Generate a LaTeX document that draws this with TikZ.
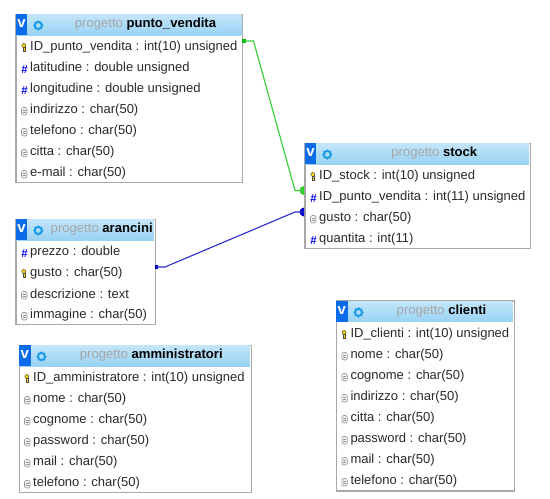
\documentclass[tikz,border=0pt]{standalone}
\usepackage{fontspec}
\usetikzlibrary{calc}
\setmainfont{Liberation Sans}
\definecolor{bordo}{HTML}{A8A8A8}
\definecolor{testo}{HTML}{2A2A2A}
\definecolor{headt}{HTML}{C4E6FA}
\definecolor{headb}{HTML}{98D2F4}
\definecolor{verde}{HTML}{2FD02F}
\definecolor{blu}{HTML}{2A2AD0}
\definecolor{vbox}{HTML}{0A6CE8}
\definecolor{gear}{HTML}{1E9BE8}
\tikzset{
  x=1pt,y=-1pt,
  tablebox/.style={draw=bordo,line width=1.2pt,fill=white,rectangle,inner sep=0pt,anchor=north west},
  rowtext/.style={anchor=west,inner sep=0pt,text=testo,font=\fontsize{13}{15}\selectfont},
  titletext/.style={inner sep=0pt,font=\fontsize{13.1}{15}\selectfont\bfseries,text=black},
  vtext/.style={inner sep=0pt,text=white,font=\fontsize{15}{16}\selectfont\bfseries},
  hashicon/.style={inner sep=0pt,text=blue,font=\fontsize{11.5}{12}\selectfont\bfseries},
  link/.style={line width=1.1pt},
}
\newcommand{\tabella}[7]{%
  \node[tablebox,minimum width=#4pt,minimum height=#5pt] (#1) at (#2,#3) {};
  \shade[top color=headt,bottom color=headb] (#2+.6,#3+.6) rectangle (#2+#4-.6,#3+21.5);
  \fill[vbox] (#2+.6,#3+.6) rectangle (#2+12,#3+21.5);
  \node[vtext] (#1v) at (#2+6.3,#3+10) {v};
  \draw[gear,line width=2pt] (#2+23,#3+12) circle (3.6);
  \foreach \a in {0,45,...,315}{\fill[gear] (#2+23,#3+12) ++(\a:4.2) circle (1);}
  \node[titletext] (#1t) at (#2+#6,#3+11) {\textcolor{gray!70}{\mdseries progetto} #7};
}
\newcommand{\riga}[6]{%
  \node[rowtext] (#1r#2) at (#3+15,#4+33.5+21*#2-21) {#6};
  \ifx#5k
    \draw[draw=black!70,fill=yellow!75!orange,line width=.5pt] (#3+8.8,#4+32+21*#2-21) circle (2);
    \draw[draw=black!70,fill=yellow!75!orange,line width=.5pt] (#3+7.8,#4+34+21*#2-21) rectangle (#3+9.8,#4+37.5+21*#2-21);
  \else\ifx#5h
    \node[hashicon] at (#3+9.5,#4+35+21*#2-21) {\#};
  \else
    \draw[draw=gray!85,fill=gray!10,line width=.6pt,rounded corners=2pt] (#3+6.5,#4+31+21*#2-21) rectangle (#3+12,#4+38.5+21*#2-21);
    \draw[gray!85,line width=.4pt] (#3+7.5,#4+33.6+21*#2-21) -- (#3+11,#4+33.6+21*#2-21);
    \draw[gray!85,line width=.4pt] (#3+7.5,#4+35.8+21*#2-21) -- (#3+11,#4+35.8+21*#2-21);
  \fi\fi
}
\begin{document}
\begin{tikzpicture}
\useasboundingbox (0,0) rectangle (550,499);
\fill[white] (0,0) rectangle (550,499);
\tabella{pv}{15.3}{13.5}{226.7}{168.5}{130.2}{punto\_vendita}
\riga{pv}{1}{15}{13.5}{k}{ID\_punto\_vendita : int(10) unsigned}
\riga{pv}{2}{15}{13.5}{h}{latitudine : double unsigned}
\riga{pv}{3}{15}{13.5}{h}{longitudine : double unsigned}
\riga{pv}{4}{15}{13.5}{c}{indirizzo : char(50)}
\riga{pv}{5}{15}{13.5}{c}{telefono : char(50)}
\riga{pv}{6}{15}{13.5}{c}{citta : char(50)}
\riga{pv}{7}{15}{13.5}{c}{e-mail : char(50)}
\tabella{st}{304.3}{142.5}{225.5}{105.5}{130}{stock}
\riga{st}{1}{304}{142.5}{k}{ID\_stock : int(10) unsigned}
\riga{st}{2}{304}{142.5}{h}{ID\_punto\_vendita : int(11) unsigned}
\riga{st}{3}{304}{142.5}{c}{gusto : char(50)}
\riga{st}{4}{304}{142.5}{h}{quantita : int(11)}
\tabella{ar}{15.3}{218.5}{139.2}{105}{86.4}{arancini}
\riga{ar}{1}{15}{218.5}{h}{prezzo : double}
\riga{ar}{2}{15}{218.5}{k}{gusto : char(50)}
\riga{ar}{3}{15}{218.5}{c}{descrizione : text}
\riga{ar}{4}{15}{218.5}{c}{immagine : char(50)}
\tabella{am}{18.5}{344.5}{232}{147.7}{132.8}{amministratori}
\riga{am}{1}{18}{344.5}{k}{ID\_amministratore : int(10) unsigned}
\riga{am}{2}{18}{344.5}{c}{nome : char(50)}
\riga{am}{3}{18}{344.5}{c}{cognome : char(50)}
\riga{am}{4}{18}{344.5}{c}{password : char(50)}
\riga{am}{5}{18}{344.5}{c}{mail : char(50)}
\riga{am}{6}{18}{344.5}{c}{telefono : char(50)}
\tabella{cl}{335.5}{300.4}{178}{190}{106}{clienti}
\riga{cl}{1}{335.3}{300.5}{k}{ID\_clienti : int(10) unsigned}
\riga{cl}{2}{335.3}{300.5}{c}{nome : char(50)}
\riga{cl}{3}{335.3}{300.5}{c}{cognome : char(50)}
\riga{cl}{4}{335.3}{300.5}{c}{indirizzo : char(50)}
\riga{cl}{5}{335.3}{300.5}{c}{citta : char(50)}
\riga{cl}{6}{335.3}{300.5}{c}{password : char(50)}
\riga{cl}{7}{335.3}{300.5}{c}{mail : char(50)}
\riga{cl}{8}{335.3}{300.5}{c}{telefono : char(50)}
\coordinate (a1) at (243.5,41);
\coordinate (a2) at (304,190.5);
\coordinate (b1) at (156,267);
\coordinate (b2) at (304,212);
\begin{scope}
\clip (0,0) rectangle (304,499);
\fill[verde] (a2) circle (4.5);
\fill[blue!80!black] (b2) circle (4.5);
\end{scope}
\fill[green!70!black] ($(a1)+(-1.5,-1.8)$) rectangle ($(a1)+(2,1.8)$);
\fill[blue!70!black] ($(b1)+(-1.5,-1.8)$) rectangle ($(b1)+(2,1.8)$);
\draw[link,verde] (a1) -- ++(10,0) -- ($(a2)+(-9,0)$) -- (a2);
\draw[link,blu] (b1) -- ++(9,0) -- ($(b2)+(-9,0)$) -- (b2);
\end{tikzpicture}
\end{document}
